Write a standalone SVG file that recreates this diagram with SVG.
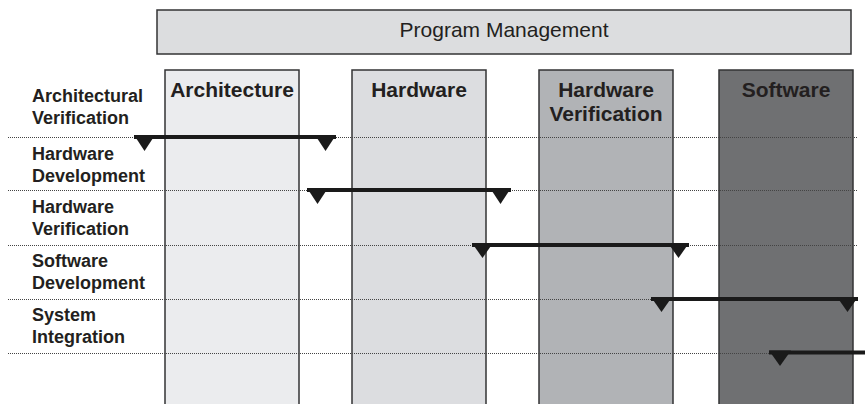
<svg xmlns="http://www.w3.org/2000/svg" width="865" height="404" viewBox="0 0 865 404">
<style>
  .box { stroke: #333335; stroke-width: 1.5; }
  .hdr { font-family: "Liberation Sans", Arial, sans-serif; font-weight: bold; font-size: 21px; fill: #231f20; text-anchor: middle; }
  .row { font-family: "Liberation Sans", Arial, sans-serif; font-weight: bold; font-size: 18px; fill: #231f20; }
  .pm { font-family: "Liberation Sans", Arial, sans-serif; font-size: 21px; fill: #231f20; text-anchor: middle; }
  .dot { stroke: #444; stroke-width: 1; stroke-dasharray: 1 1; fill: none; }
  .bar { stroke: #1a1a1a; stroke-width: 4; fill: none; }
  .tri { fill: #1a1a1a; }
</style>
<rect x="0" y="0" width="865" height="404" fill="#ffffff"/>

<g id="program-management">
  <rect class="box" x="157" y="10" width="694" height="44" fill="#dcdddf"/>
  <text class="pm" x="504" y="37">Program Management</text>
</g>

<g id="col-architecture">
  <rect class="box" x="165" y="70" width="134" height="345" fill="#ebecee"/>
  <text class="hdr" x="232" y="97">Architecture</text>
</g>
<g id="col-hardware">
  <rect class="box" x="352" y="70" width="134" height="345" fill="#dcdde0"/>
  <text class="hdr" x="419" y="97">Hardware</text>
</g>
<g id="col-hardware-verification">
  <rect class="box" x="539" y="70" width="134" height="345" fill="#b1b3b6"/>
  <text class="hdr" x="606" y="97">Hardware</text>
  <text class="hdr" x="606" y="121">Verification</text>
</g>
<g id="col-software">
  <rect class="box" x="719" y="70" width="134" height="345" fill="#6f7072"/>
  <text class="hdr" x="786" y="97">Software</text>
</g>

<g id="row-labels">
  <g id="row-arch-verif">
    <text class="row" x="32" y="102">Architectural</text>
    <text class="row" x="32" y="124">Verification</text>
  </g>
  <g id="row-hw-dev">
    <text class="row" x="32" y="160">Hardware</text>
    <text class="row" x="32" y="182">Development</text>
  </g>
  <g id="row-hw-verif">
    <text class="row" x="32" y="213">Hardware</text>
    <text class="row" x="32" y="235">Verification</text>
  </g>
  <g id="row-sw-dev">
    <text class="row" x="32" y="267">Software</text>
    <text class="row" x="32" y="289">Development</text>
  </g>
  <g id="row-sys-int">
    <text class="row" x="32" y="321">System</text>
    <text class="row" x="32" y="343">Integration</text>
  </g>
</g>

<g id="separators">
  <line class="dot" x1="8" y1="137.5" x2="857" y2="137.5"/>
  <line class="dot" x1="8" y1="190.5" x2="857" y2="190.5"/>
  <line class="dot" x1="8" y1="245.5" x2="857" y2="245.5"/>
  <line class="dot" x1="8" y1="299.5" x2="857" y2="299.5"/>
  <line class="dot" x1="8" y1="353.5" x2="857" y2="353.5"/>
</g>

<g id="connectors">
  <line class="bar" x1="134" y1="137" x2="336" y2="137"/>
  <polygon class="tri" points="134,135 155,135 144.5,151"/>
  <polygon class="tri" points="315,135 336,135 325.5,151"/>

  <line class="bar" x1="307" y1="190" x2="511" y2="190"/>
  <polygon class="tri" points="307,188 328,188 317.5,204"/>
  <polygon class="tri" points="490,188 511,188 500.5,204"/>

  <line class="bar" x1="472" y1="245" x2="689" y2="245"/>
  <polygon class="tri" points="472,243 493,243 482.5,258"/>
  <polygon class="tri" points="668,243 689,243 678.5,258"/>

  <line class="bar" x1="651" y1="299" x2="858" y2="299"/>
  <polygon class="tri" points="651,297 672,297 661.5,312"/>
  <polygon class="tri" points="837,297 858,297 847.5,312"/>

  <line class="bar" x1="769" y1="352.5" x2="865" y2="352.5"/>
  <polygon class="tri" points="769,350.5 791,350.5 780,366"/>
</g>
</svg>
